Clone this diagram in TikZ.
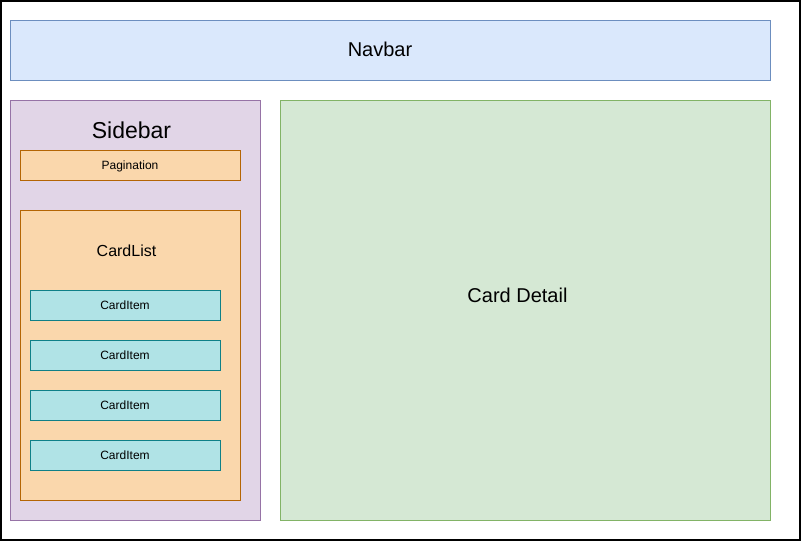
\documentclass[tikz,border=0pt]{standalone}
\usepackage{fontspec}
\setmainfont{Liberation Sans}
\usetikzlibrary{positioning}
\definecolor{navfill}{HTML}{DAE8FC}
\definecolor{navline}{HTML}{6C8EBF}
\definecolor{sidefill}{HTML}{E1D5E7}
\definecolor{sideline}{HTML}{9673A6}
\definecolor{listfill}{HTML}{FAD7AC}
\definecolor{listline}{HTML}{B46504}
\definecolor{itemfill}{HTML}{B0E3E6}
\definecolor{itemline}{HTML}{0E8088}
\definecolor{detailfill}{HTML}{D5E8D4}
\definecolor{detailline}{HTML}{82B366}

\begin{document}
\begin{tikzpicture}[x=1pt,y=-1pt]
	\newcommand\itw{190pt}
	\newcommand\ith{30pt}
	\newcommand\gap{20pt}
	\tikzset{
		every node/.style = {inner sep=0pt, outer sep=0pt},
		panel/.style = {draw, line width=0.8pt, anchor=north west},
		navbox/.style = {panel, fill=navfill, draw=navline},
		sidebox/.style = {panel, fill=sidefill, draw=sideline},
		listbox/.style = {panel, fill=listfill, draw=listline},
		detailbox/.style = {panel, fill=detailfill, draw=detailline},
		small/.style = {font=\fontsize{12}{14}\selectfont, text height=8.6pt, text depth=0pt},
		title/.style = {anchor=base, font=\fontsize{#1}{#1}\selectfont},
		itembox/.style = {small, draw=itemline, fill=itemfill, line width=0.8pt,
			minimum width=\itw, minimum height=\ith},
	}
	\useasboundingbox (0,0) rectangle (801,541);
	\draw[line width=1.5pt] (0.75,0.75) rectangle (799.75,539.75);

	% top bar
	\node[navbox, minimum width=760pt, minimum height=60pt] (nav) at (10,20) {};
	\node[title=20] (navtitle) at (380,56.7) {Navbar};

	% left column
	\node[sidebox, minimum width=250pt, minimum height=420pt] (side) at (10,100) {};
	\node[title=23] (sidetitle) at (131.5,138) {Sidebar};
	\node[listbox, small, minimum width=220pt, minimum height=30pt] (pag) at (20,150) {Pagination};
	\node[listbox, minimum width=220pt, minimum height=290pt] (list) at (20,210) {};
	\node[title=16] (listtitle) at (126.5,256) {CardList};

	% card items
	\node[itembox] (item1) at (125,305) {CardItem};
	\node[itembox, below=\gap of item1] (item2) {CardItem};
	\node[itembox, below=\gap of item2] (item3) {CardItem};
	\node[itembox, below=\gap of item3] (item4) {CardItem};

	% right column
	\node[detailbox, minimum width=490pt, minimum height=420pt] (detail) at (280,100) {};
	\node[title=20] (detailtitle) at (517.5,302) {Card Detail};
\end{tikzpicture}
\end{document}
